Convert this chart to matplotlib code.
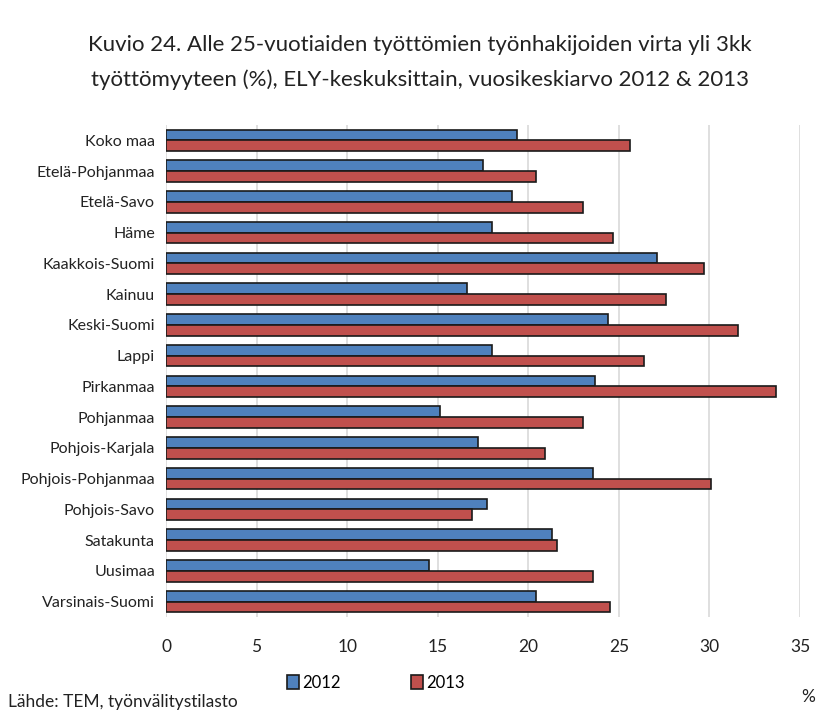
import matplotlib
matplotlib.use("Agg")
import matplotlib.pyplot as plt
import numpy as np
from matplotlib.patches import Patch

categories = ["Koko maa", "Etelä-Pohjanmaa", "Etelä-Savo", "Häme", "Kaakkois-Suomi",
              "Kainuu", "Keski-Suomi", "Lappi", "Pirkanmaa", "Pohjanmaa",
              "Pohjois-Karjala", "Pohjois-Pohjanmaa", "Pohjois-Savo", "Satakunta",
              "Uusimaa", "Varsinais-Suomi"]
v2012 = [19.4, 17.5, 19.1, 18.0, 27.1, 16.6, 24.4, 18.0, 23.7, 15.1, 17.2, 23.6, 17.7, 21.3, 14.5, 20.4]
v2013 = [25.6, 20.4, 23.0, 24.7, 29.7, 27.6, 31.6, 26.4, 33.7, 23.0, 20.9, 30.1, 16.9, 21.6, 23.6, 24.5]
xticks = [0, 5, 10, 15, 20, 25, 30, 35]
series_labels = ["2012", "2013"]

plt.rcParams['font.family'] = ['Lato', 'DejaVu Sans']

fig = plt.figure(figsize=(8.2, 7.16), dpi=100)
ax = fig.add_axes([166/820, 1-617/716, (800-166)/820, (617-125)/716])

y = np.arange(len(categories))
h = 0.35
blue = "#4F81BD"
red = "#C0504D"
ax.barh(y - h/2, v2012, height=h, color=blue, edgecolor="#1a1a1a", linewidth=1.2, zorder=3)
ax.barh(y + h/2, v2013, height=h, color=red, edgecolor="#1a1a1a", linewidth=1.2, zorder=3)

ax.set_xlim(0, 35)
ax.set_ylim(len(categories) - 0.5, -0.5)
ax.set_xticks(xticks)
ax.set_xticklabels([str(t) for t in xticks], fontsize=12.5, color="#222222")
ax.set_yticks(y)
ax.set_yticklabels(categories, fontsize=11.5, color="#222222")
ax.tick_params(length=0, pad=8)
ax.tick_params(axis='x', pad=16)
ax.xaxis.grid(True, color="#d9d9d9", linewidth=1.2, zorder=0)
for s in ax.spines.values():
    s.set_visible(False)

fig.text(420/820, 1-45/716, "Kuvio 24. Alle 25-vuotiaiden työttömien työnhakijoiden virta yli 3kk",
         ha="center", va="center", fontsize=16, color="#222222")
fig.text(420/820, 1-80/716, "työttömyyteen (%), ELY-keskuksittain, vuosikeskiarvo 2012 & 2013",
         ha="center", va="center", fontsize=16, color="#222222")

handles = [Patch(facecolor=blue, edgecolor="#1a1a1a", linewidth=1.2),
           Patch(facecolor=red, edgecolor="#1a1a1a", linewidth=1.2)]
fig.legend(handles, series_labels, loc="center", bbox_to_anchor=(376/820, 1-683/716),
           ncol=2, frameon=False, fontsize=12, handlelength=0.7, handleheight=0.9,
           handletextpad=0.2, columnspacing=4.2)

fig.text(8/820, 1-702/716, "Lähde: TEM, työnvälitystilasto", ha="left", va="center",
         fontsize=12.5, color="#222222")
fig.text(808/820, 1-697/716, "%", ha="center", va="center", fontsize=12.5, color="#222222")

fig.savefig("out.png", dpi=100, facecolor="white")
